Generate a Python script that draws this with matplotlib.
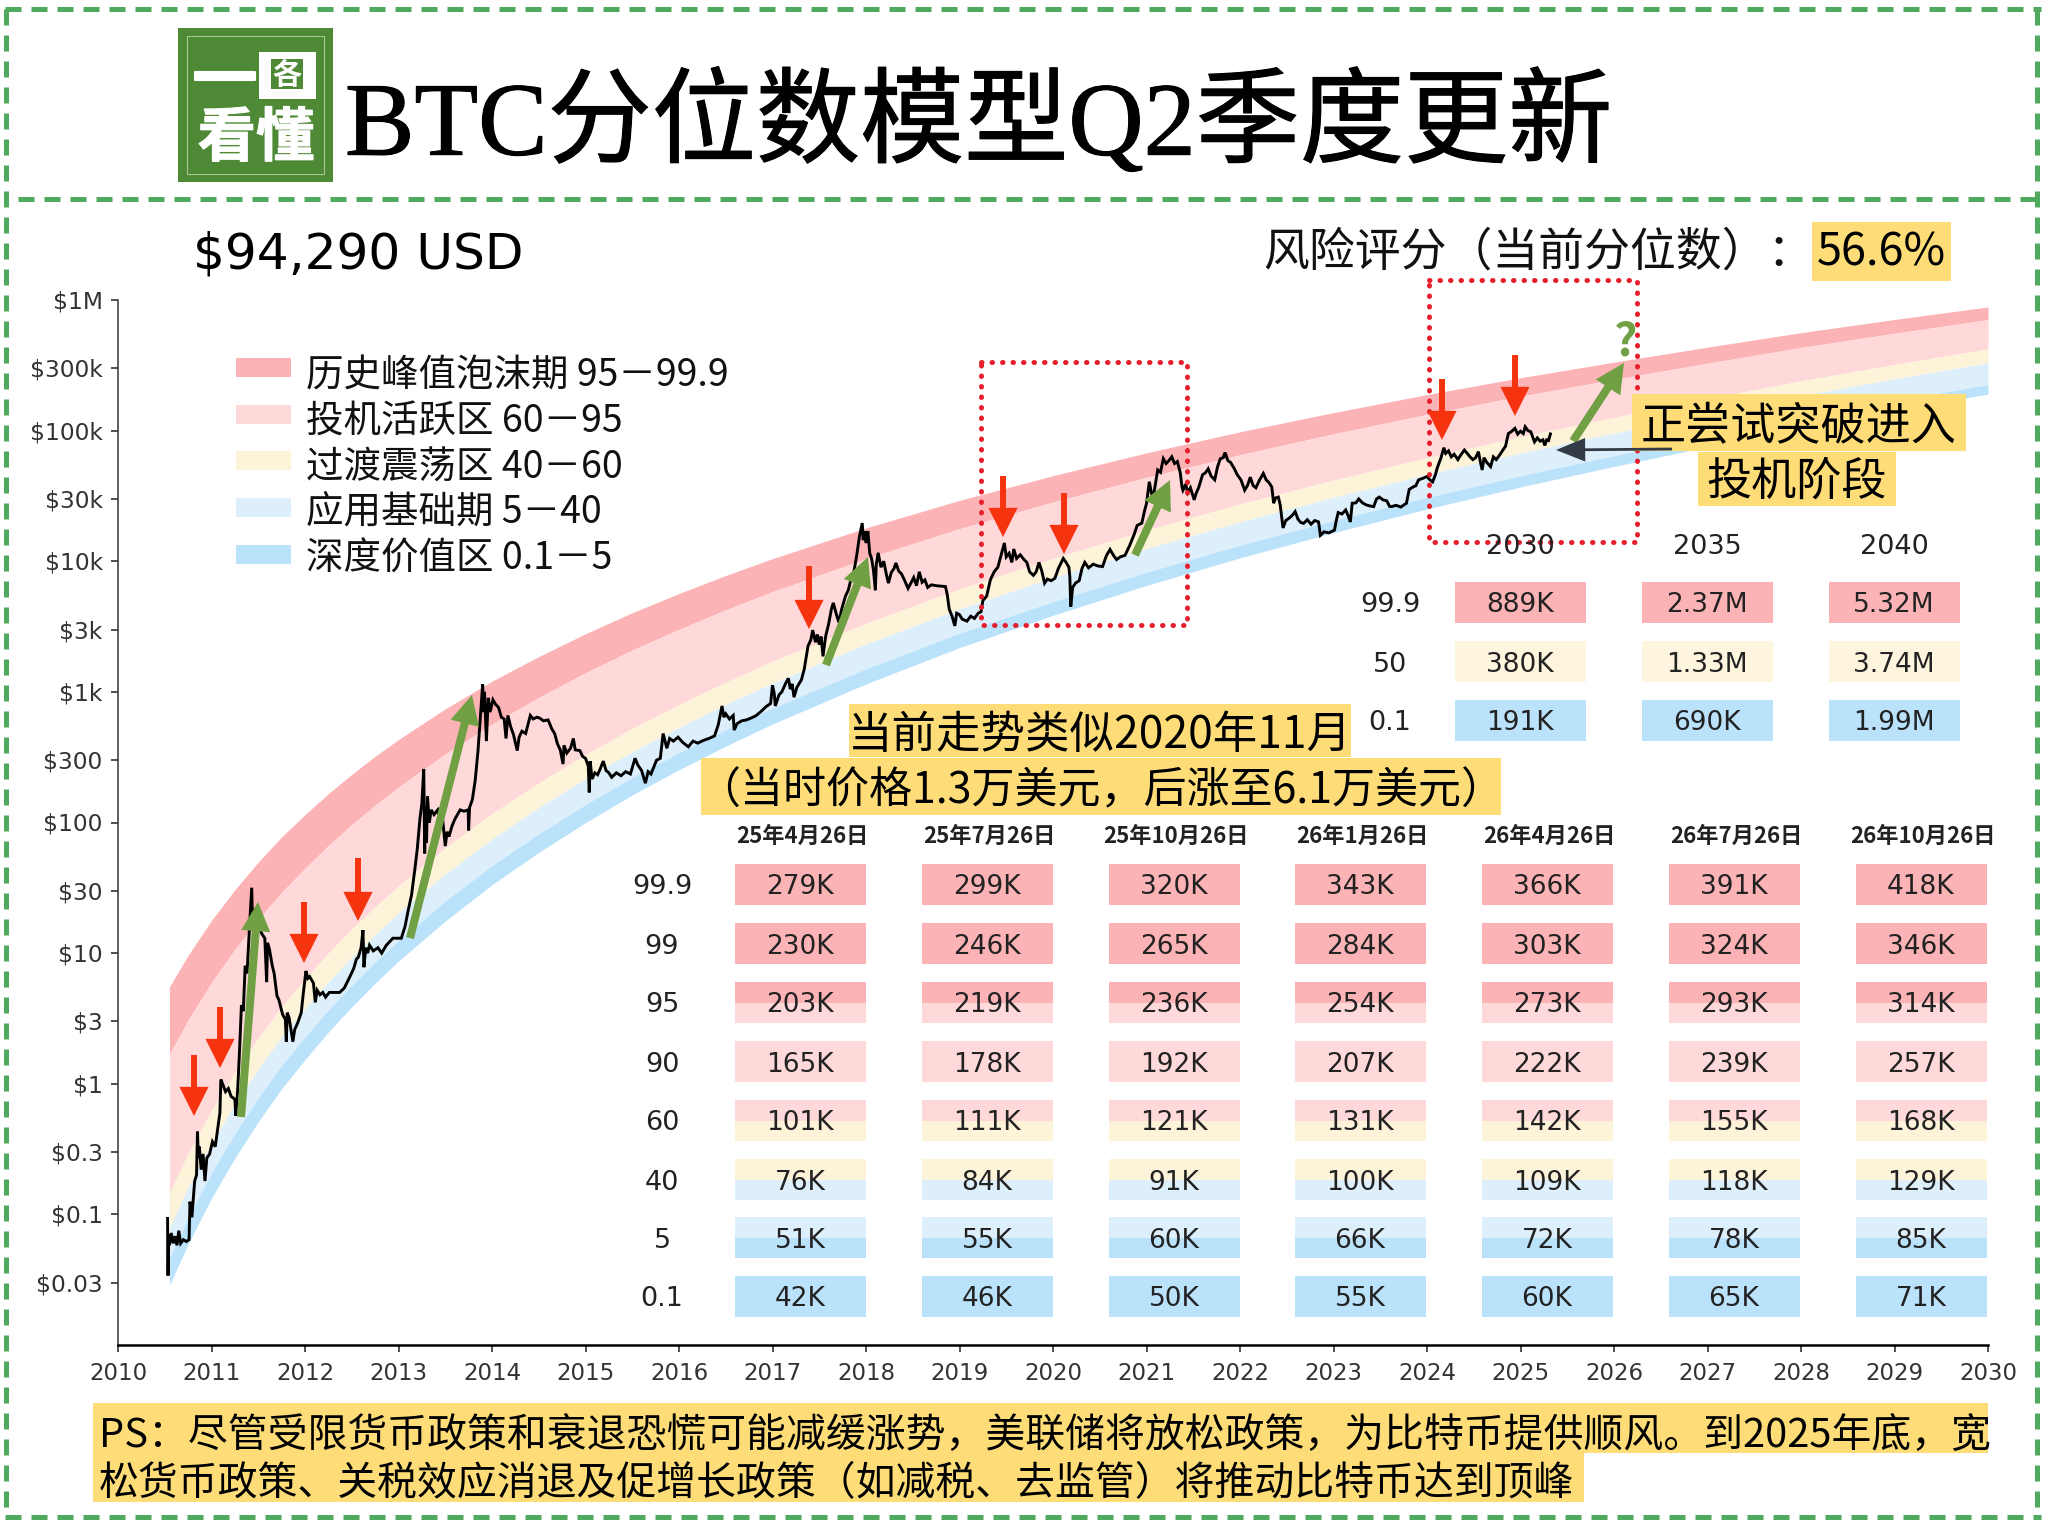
import numpy as np
import matplotlib
matplotlib.use('Agg')
import matplotlib.pyplot as plt
import matplotlib.patheffects as pe
from matplotlib.patches import Rectangle
from matplotlib.transforms import ScaledTranslation

plt.rcParams['font.family'] = ['Noto Sans CJK SC', 'DejaVu Sans']

# quantile bands, log10 of price
band_years = [2010.55, 2010.75, 2011, 2011.25, 2011.5, 2011.75, 2012, 2012.25, 2012.5, 2012.75, 2013, 2013.5, 2014, 2014.5,
              2015, 2015.5, 2016, 2016.5, 2017, 2018, 2019, 2020, 2021, 2022, 2023, 2024, 2025, 2026, 2027, 2028, 2029, 2030]
q999 = [0.742, 0.984, 1.251, 1.485, 1.697, 1.890, 2.060, 2.221, 2.369, 2.507, 2.635, 2.870, 3.082, 3.270,
        3.445, 3.606, 3.753, 3.891, 4.020, 4.255, 4.466, 4.655, 4.830, 4.991, 5.138, 5.276, 5.405, 5.524, 5.639, 5.750, 5.851, 5.947]
q95 = [0.225, 0.487, 0.775, 1.028, 1.257, 1.466, 1.650, 1.824, 1.983, 2.132, 2.271, 2.524, 2.753, 2.957,
       3.146, 3.320, 3.478, 3.628, 3.767, 4.020, 4.249, 4.453, 4.642, 4.815, 4.975, 5.124, 5.263, 5.392, 5.516, 5.636, 5.745, 5.849]
q60 = [-0.836, -0.535, -0.204, 0.088, 0.350, 0.590, 0.801, 1.001, 1.184, 1.355, 1.515, 1.806, 2.069, 2.303,
       2.520, 2.720, 2.903, 3.074, 3.234, 3.525, 3.788, 4.022, 4.239, 4.439, 4.621, 4.793, 4.953, 5.101, 5.244, 5.381, 5.506, 5.626]
q40 = [-1.102, -0.794, -0.454, -0.156, 0.113, 0.359, 0.575, 0.780, 0.967, 1.143, 1.307, 1.605, 1.874, 2.114,
       2.336, 2.541, 2.728, 2.904, 3.067, 3.366, 3.635, 3.875, 4.097, 4.302, 4.489, 4.665, 4.828, 4.980, 5.127, 5.267, 5.396, 5.519]
q5 = [-1.336, -1.025, -0.682, -0.381, -0.109, 0.140, 0.358, 0.565, 0.754, 0.932, 1.097, 1.398, 1.670, 1.913,
      2.137, 2.344, 2.533, 2.710, 2.876, 3.177, 3.449, 3.691, 3.916, 4.123, 4.312, 4.489, 4.655, 4.808, 4.956, 5.098, 5.228, 5.352]
q01 = [-1.544, -1.226, -0.876, -0.569, -0.291, -0.038, 0.185, 0.396, 0.589, 0.770, 0.939, 1.246, 1.524, 1.771,
       1.999, 2.211, 2.404, 2.585, 2.754, 3.061, 3.339, 3.586, 3.815, 4.026, 4.219, 4.400, 4.569, 4.726, 4.876, 5.021, 5.154, 5.280]

price_2010_14 = [(2010.53, 0.093), (2010.535, 0.034), (2010.54, 0.07), (2010.55, 0.058), (2010.57, 0.072), (2010.59, 0.06),
                 (2010.61, 0.068), (2010.63, 0.058), (2010.65, 0.075), (2010.67, 0.06), (2010.7, 0.064), (2010.73, 0.062),
                 (2010.76, 0.064), (2010.77, 0.125), (2010.79, 0.095), (2010.82, 0.18), (2010.84, 0.2), (2010.85, 0.43),
                 (2010.86, 0.27), (2010.87, 0.33), (2010.89, 0.22), (2010.91, 0.29), (2010.93, 0.18), (2010.95, 0.27),
                 (2010.98, 0.29), (2011.01, 0.36), (2011.04, 0.33), (2011.07, 0.47), (2011.09, 0.6), (2011.1, 1.08),
                 (2011.13, 0.95), (2011.15, 0.87), (2011.18, 0.92), (2011.21, 0.8), (2011.25, 0.76), (2011.26, 0.57),
                 (2011.28, 0.9), (2011.3, 1.8), (2011.32, 4), (2011.34, 3.6), (2011.36, 8), (2011.38, 7), (2011.4, 13),
                 (2011.43, 31.7), (2011.44, 15), (2011.46, 22), (2011.49, 16), (2011.52, 15), (2011.54, 14), (2011.57, 13),
                 (2011.59, 6), (2011.6, 12), (2011.62, 10.7), (2011.65, 8), (2011.67, 7), (2011.7, 4.7), (2011.72, 4.4),
                 (2011.76, 3.4), (2011.79, 3.1), (2011.8, 2.1), (2011.81, 3.5), (2011.83, 3.2), (2011.85, 2.6), (2011.87, 2.1),
                 (2011.89, 2.6), (2011.92, 2.9), (2011.96, 3.5), (2011.98, 4.8), (2012.01, 7.3), (2012.03, 6.4), (2012.05, 6.6),
                 (2012.09, 5.9), (2012.11, 4.2), (2012.13, 5.2), (2012.16, 4.8), (2012.19, 5.0), (2012.22, 4.6), (2012.26, 5.0),
                 (2012.32, 5.0), (2012.37, 5.0), (2012.42, 5.4), (2012.48, 6.6), (2012.52, 7.6), (2012.55, 9), (2012.57, 9.3),
                 (2012.6, 11), (2012.62, 15), (2012.63, 7.8), (2012.65, 11), (2012.67, 10), (2012.69, 11.5), (2012.73, 10.4),
                 (2012.78, 11), (2012.82, 10), (2012.87, 11.5), (2012.94, 13), (2013.03, 13), (2013.07, 16), (2013.1, 20.6),
                 (2013.14, 28), (2013.18, 47), (2013.2, 62), (2013.23, 108), (2013.25, 140), (2013.27, 257), (2013.28, 58),
                 (2013.29, 130), (2013.3, 70), (2013.31, 158), (2013.33, 100), (2013.35, 125), (2013.38, 115), (2013.42, 125),
                 (2013.45, 100), (2013.47, 110), (2013.5, 66), (2013.52, 85), (2013.54, 78), (2013.57, 93), (2013.6, 105),
                 (2013.63, 115), (2013.66, 125), (2013.7, 122), (2013.745, 125), (2013.75, 87), (2013.76, 130), (2013.79, 150),
                 (2013.82, 209), (2013.85, 352), (2013.87, 560), (2013.9, 1140), (2013.91, 700), (2013.92, 1000), (2013.94, 420),
                 (2013.96, 900), (2013.98, 700), (2014.01, 870), (2014.04, 800), (2014.07, 760), (2014.1, 640), (2014.13, 620),
                 (2014.15, 440), (2014.17, 660), (2014.2, 540), (2014.23, 470), (2014.27, 355), (2014.29, 450), (2014.32, 500),
                 (2014.36, 480), (2014.41, 660), (2014.44, 620), (2014.48, 640), (2014.51, 630), (2014.55, 600), (2014.6, 610),
                 (2014.64, 520), (2014.67, 480), (2014.7, 400), (2014.73, 360), (2014.76, 280), (2014.77, 390), (2014.8, 340),
                 (2014.84, 370), (2014.87, 440), (2014.89, 360), (2014.94, 355), (2014.97, 320), (2015.0, 310), (2015.03, 270),
                 (2015.04, 170), (2015.05, 295), (2015.07, 215), (2015.1, 240), (2015.13, 232), (2015.16, 260), (2015.19, 295),
                 (2015.22, 250), (2015.25, 240), (2015.28, 222), (2015.33, 240), (2015.38, 228), (2015.43, 245), (2015.48, 235),
                 (2015.53, 310), (2015.56, 275), (2015.6, 250), (2015.64, 200), (2015.67, 245), (2015.7, 235), (2015.76, 300),
                 (2015.8, 310), (2015.83, 480), (2015.87, 370), (2015.9, 440), (2015.94, 420), (2015.99, 450)]

price_2016_20 = [(2016.04, 410), (2016.1, 380), (2016.15, 420), (2016.2, 405), (2016.26, 425), (2016.32, 440), (2016.38, 460),
                 (2016.42, 560), (2016.46, 780), (2016.48, 640), (2016.5, 680), (2016.54, 620), (2016.58, 660), (2016.59, 510),
                 (2016.62, 570), (2016.67, 600), (2016.72, 610), (2016.77, 630), (2016.82, 655), (2016.88, 710), (2016.93, 770),
                 (2016.98, 815), (2017.0, 1120), (2017.02, 960), (2017.03, 780), (2017.07, 950), (2017.1, 1000), (2017.14, 1160),
                 (2017.17, 1270), (2017.19, 1050), (2017.21, 1150), (2017.23, 910), (2017.26, 1080), (2017.31, 1240), (2017.34, 1500),
                 (2017.38, 2250), (2017.41, 2500), (2017.43, 2970), (2017.46, 2400), (2017.48, 2750), (2017.5, 2300), (2017.52, 2650),
                 (2017.54, 1870), (2017.57, 2700), (2017.6, 3300), (2017.63, 4300), (2017.65, 4800), (2017.68, 4000), (2017.71, 3400),
                 (2017.74, 4300), (2017.78, 5400), (2017.81, 6000), (2017.84, 7300), (2017.87, 8300), (2017.9, 11000), (2017.93, 15500),
                 (2017.96, 19600), (2017.97, 14500), (2017.98, 17000), (2018.0, 13800), (2018.02, 17000), (2018.04, 11500), (2018.06, 10500),
                 (2018.08, 8500), (2018.1, 6000), (2018.11, 9500), (2018.13, 11600), (2018.16, 9000), (2018.19, 10000), (2018.22, 7800),
                 (2018.24, 6800), (2018.27, 8200), (2018.3, 8800), (2018.32, 9700), (2018.35, 8400), (2018.38, 8000), (2018.41, 7200),
                 (2018.45, 6200), (2018.48, 6800), (2018.51, 7500), (2018.54, 6500), (2018.57, 8300), (2018.6, 6900), (2018.63, 7200),
                 (2018.66, 6300), (2018.7, 6600), (2018.75, 6500), (2018.8, 6450), (2018.85, 6400), (2018.87, 5500), (2018.89, 4300),
                 (2018.92, 3800), (2018.95, 3200), (2018.97, 4000), (2019.0, 3900), (2019.03, 3600), (2019.08, 3480), (2019.12, 3800),
                 (2019.16, 3650), (2019.2, 4000), (2019.23, 4100), (2019.25, 5000), (2019.29, 5400), (2019.33, 7200), (2019.37, 8300),
                 (2019.41, 9000), (2019.45, 11500), (2019.48, 13800), (2019.5, 10800), (2019.53, 11500), (2019.56, 9800), (2019.58, 12400),
                 (2019.61, 10500), (2019.65, 11200), (2019.69, 10300), (2019.72, 9800), (2019.75, 8300), (2019.79, 7800), (2019.82, 8300),
                 (2019.85, 9800), (2019.88, 8400), (2019.91, 6800), (2019.94, 7300), (2019.98, 7100), (2020.02, 7400), (2020.06, 8900),
                 (2020.11, 10500), (2020.14, 9800), (2020.17, 9000), (2020.18, 7600), (2020.19, 4500), (2020.21, 6300), (2020.24, 6800),
                 (2020.28, 7100), (2020.31, 8800), (2020.34, 9800), (2020.38, 8900), (2020.43, 9500), (2020.48, 9200), (2020.53, 9100)]

price_2020_25 = [(2020.57, 11000), (2020.61, 12300), (2020.65, 11000), (2020.68, 10300), (2020.72, 10800), (2020.77, 11100),
                 (2020.82, 13200), (2020.87, 16200), (2020.9, 18800), (2020.95, 19600), (2020.98, 24500), (2021.0, 27600),
                 (2021.03, 40600), (2021.05, 34000), (2021.07, 30000), (2021.09, 37000), (2021.12, 50000), (2021.15, 48000),
                 (2021.18, 61000), (2021.21, 56000), (2021.24, 59000), (2021.27, 63000), (2021.3, 56000), (2021.33, 58000),
                 (2021.36, 48000), (2021.38, 37000), (2021.39, 35000), (2021.42, 39000), (2021.44, 33500), (2021.47, 36500),
                 (2021.51, 29500), (2021.53, 33000), (2021.56, 37000), (2021.6, 46000), (2021.63, 47500), (2021.66, 51000),
                 (2021.69, 45000), (2021.73, 42000), (2021.76, 53000), (2021.79, 61000), (2021.82, 62000), (2021.84, 68000),
                 (2021.87, 59000), (2021.9, 57000), (2021.94, 51000), (2021.97, 46000), (2022.01, 42000), (2022.05, 35000),
                 (2022.08, 38000), (2022.11, 44000), (2022.14, 38000), (2022.17, 36500), (2022.21, 42000), (2022.25, 47000),
                 (2022.28, 42000), (2022.31, 40000), (2022.34, 37000), (2022.36, 27800), (2022.38, 30500), (2022.41, 31000),
                 (2022.43, 27000), (2022.46, 18000), (2022.49, 20500), (2022.53, 21500), (2022.56, 22500), (2022.59, 24000),
                 (2022.62, 21000), (2022.65, 19800), (2022.68, 19500), (2022.72, 20800), (2022.76, 19200), (2022.8, 20500),
                 (2022.84, 20000), (2022.86, 15800), (2022.9, 16800), (2022.95, 16500), (2023.01, 17300), (2023.03, 20500),
                 (2023.05, 23600), (2023.09, 23000), (2023.13, 24700), (2023.16, 22000), (2023.18, 20000), (2023.2, 27800),
                 (2023.24, 28000), (2023.27, 30000), (2023.31, 28000), (2023.35, 27000), (2023.39, 26500), (2023.43, 26200),
                 (2023.46, 30000), (2023.49, 31000), (2023.53, 29500), (2023.57, 29000), (2023.6, 26300), (2023.62, 26200),
                 (2023.67, 26800), (2023.72, 26000), (2023.78, 27800), (2023.81, 35500), (2023.85, 37000), (2023.88, 37800),
                 (2023.91, 42000), (2023.95, 43000), (2024.0, 44500), (2024.03, 42000), (2024.06, 40500), (2024.09, 46000),
                 (2024.11, 52000), (2024.15, 62000), (2024.18, 74000), (2024.2, 67000), (2024.23, 70000), (2024.26, 63000),
                 (2024.29, 66000), (2024.33, 60000), (2024.36, 65000), (2024.4, 71000), (2024.43, 67000), (2024.46, 63000),
                 (2024.49, 60000), (2024.52, 62000), (2024.55, 69000), (2024.57, 58000), (2024.59, 50000), (2024.61, 62000),
                 (2024.64, 57000), (2024.68, 53000), (2024.71, 63000), (2024.74, 60000), (2024.77, 64000), (2024.8, 69000),
                 (2024.84, 76000), (2024.87, 95000), (2024.9, 98000), (2024.94, 104000), (2024.97, 94000), (2025.0, 99000),
                 (2025.03, 95000), (2025.05, 107000), (2025.08, 100000), (2025.11, 98000), (2025.15, 82000), (2025.18, 88000),
                 (2025.21, 83000), (2025.24, 85000), (2025.26, 77000), (2025.28, 85000), (2025.3, 84000), (2025.32, 94290)]

y_ticks = [0.03, 0.1, 0.3, 1, 3, 10, 30, 100, 300, 1000, 3000, 1e4, 3e4, 1e5, 3e5, 1e6]
y_tick_labels = ['$0.03', '$0.1', '$0.3', '$1', '$3', '$10', '$30', '$100', '$300', '$1k', '$3k', '$10k', '$30k',
                 '$100k', '$300k', '$1M']
x_ticks = list(range(2010, 2031))

legend_labels = ['历史峰值泡沫期 95－99.9', '投机活跃区 60－95', '过渡震荡区 40－60', '应用基础期 5－40', '深度价值区 0.1－5']

dates = ['25年4月26日', '25年7月26日', '25年10月26日', '26年1月26日', '26年4月26日', '26年7月26日', '26年10月26日']
quantiles = ['99.9', '99', '95', '90', '60', '40', '5', '0.1']
table = [['279K', '299K', '320K', '343K', '366K', '391K', '418K'],
         ['230K', '246K', '265K', '284K', '303K', '324K', '346K'],
         ['203K', '219K', '236K', '254K', '273K', '293K', '314K'],
         ['165K', '178K', '192K', '207K', '222K', '239K', '257K'],
         ['101K', '111K', '121K', '131K', '142K', '155K', '168K'],
         ['76K', '84K', '91K', '100K', '109K', '118K', '129K'],
         ['51K', '55K', '60K', '66K', '72K', '78K', '85K'],
         ['42K', '46K', '50K', '55K', '60K', '65K', '71K']]

long_years = ['2030', '2035', '2040']
long_quantiles = ['99.9', '50', '0.1']
long_table = [['889K', '2.37M', '5.32M'], ['380K', '1.33M', '3.74M'], ['191K', '690K', '1.99M']]

RED = '#fcb3b6'
PINK = '#ffd9da'
CREAM = '#fdf3d8'
LBLUE = '#deeffc'
BLUE = '#bbe2fb'
YELLOW = '#fedd78'
GREEN = '#70a043'
ARROW_RED = '#f5340f'
FRAME = '#4fa95f'
LOGO = '#4e8a35'

fig = plt.figure(figsize=(20.48, 15.25), dpi=100)
W, H = 2048, 1525

# main chart
ax = fig.add_axes([118 / W, 1 - 1345 / H, (1988 - 118) / W, (1345 - 300) / H])
ax.set_xlim(2010, 2030)
ax.set_yscale('log')
ax.set_ylim(0.01, 1e6)

by = np.array(band_years)
edges = [10.0 ** np.array(q) for q in [q999, q95, q60, q40, q5, q01]]
colors = [RED, PINK, CREAM, LBLUE, BLUE]
for i in range(5):
    ax.fill_between(by, edges[i + 1], edges[i], color=colors[i], lw=0, zorder=1)

price = price_2010_14 + price_2016_20 + price_2020_25
ax.plot([p[0] for p in price], [p[1] for p in price], color='black', lw=2.1, zorder=3, solid_joinstyle='miter')

ax.set_yticks(y_ticks)
ax.set_yticklabels(y_tick_labels, family='DejaVu Sans', fontsize=16.8, color='#333333')
ax.minorticks_off()
ax.set_xticks(x_ticks)
ax.set_xticklabels(x_ticks, family='DejaVu Sans', fontsize=16.5, color='#333333')
ax.tick_params(axis='y', length=5, width=1.2, pad=6, color='#333333')
ax.tick_params(axis='x', length=5, width=1.2, pad=7, color='#333333')
nudge = ScaledTranslation(0, 0.5 / 100, fig.dpi_scale_trans)
for lab in ax.get_yticklabels():
    lab.set_transform(lab.get_transform() + nudge)
ax.spines['top'].set_visible(False)
ax.spines['right'].set_visible(False)
ax.spines['left'].set_linewidth(1.2)
ax.spines['left'].set_color('#444444')
ax.spines['bottom'].set_linewidth(1.8)

# overlay in pixel coordinates for all the poster stuff
ov = fig.add_axes([0, 0, 1, 1], zorder=5)
ov.set_xlim(0, W)
ov.set_ylim(H, 0)
ov.axis('off')
ov.patch.set_alpha(0)


def box(x0, y0, x1, y1, color, z=2):
    ov.add_patch(Rectangle((x0, y0), x1 - x0, y1 - y0, facecolor=color, edgecolor='none', zorder=z))


# green frame
dash = (0, (3.2, 2.0))
for xs, ys in [([5, 2041], [9, 9]), ([6, 6], [9, 1517]), ([2037, 2037], [9, 1517]), ([5, 2041], [1517, 1517]),
               ([18, 2040], [199, 199])]:
    ov.plot(xs, ys, color=FRAME, lw=3.6, linestyle=dash, zorder=2)

# logo
box(178, 28, 333, 182, LOGO)
ov.add_patch(Rectangle((187, 36), 137, 138, facecolor='none', edgecolor='#a9c893', lw=0.8, zorder=3))
ov.text(225, 82, '一', color='white', fontsize=47, fontweight='bold', ha='center', va='center', zorder=4,
        path_effects=[pe.withStroke(linewidth=1.5, foreground='white')])
box(259, 52, 316, 99, 'white', 3)
box(271, 59, 303, 89, LOGO, 3)
ov.text(287, 75, '各', color='white', fontsize=21, fontweight='bold', ha='center', va='center', zorder=4)
ov.text(256, 139, '看懂', color='white', fontsize=42, fontweight='bold', ha='center', va='center', zorder=4,
        path_effects=[pe.withStroke(linewidth=0.8, foreground='white')])

# title
ov.text(345, 124, 'BTC分位数模型Q2季度更新', fontsize=75, color='black', family=['Liberation Serif', 'Noto Sans CJK SC'],
        ha='left', va='center', zorder=4, path_effects=[pe.withStroke(linewidth=0.8, foreground='black')])
ov.text(193, 254, '$94,290 USD', fontsize=36.2, family='DejaVu Sans', color='black', ha='left', va='center', zorder=4)
ov.text(1263, 252, '风险评分（当前分位数）：', fontsize=33, color='#111111', ha='left', va='center', zorder=4)
box(1812, 222, 1951, 281, YELLOW)
ov.text(1881, 253, '56.6%', fontsize=32.5, color='black', ha='center', va='center', zorder=4)

# legend
leg_y = [367, 414, 460, 507, 554]
leg_text_y = [376, 422, 468, 513, 559]
for lab, c, yy, ty in zip(legend_labels, colors, leg_y, leg_text_y):
    box(236, yy - 9, 291, yy + 10, c)
    ov.text(306, ty, lab, fontsize=27, color='#111111', ha='left', va='center', zorder=4)

# dotted red boxes
for x0, y0, x1, y1 in [(981, 362, 1187, 625), (1429, 280, 1637, 542)]:
    ov.plot([x0, x1, x1, x0, x0], [y0, y0, y1, y1, y0], color='#e51f2b', lw=3.6, linestyle=(0, (0.1, 2.0)),
            dash_capstyle='round', zorder=6)

# red arrows
for xa, y0, y1 in [(194, 1055, 1116), (220, 1007, 1068), (304, 902, 963), (358, 858, 921), (809, 566, 629),
                   (1003, 476, 537), (1064, 493, 554), (1442, 379, 440), (1515, 355, 416)]:
    ov.annotate('', xy=(xa, y1), xytext=(xa, y0), zorder=7,
                arrowprops=dict(width=4.3, headwidth=21, headlength=21, color=ARROW_RED, shrink=0, lw=0))

# green arrows
for (x0, y0), (x1, y1) in [((241, 1117), (258, 902)), ((410, 938), (472, 695)), ((826, 665), (868, 557)),
                           ((1135, 555), (1170, 480)), ((1573, 441), (1624, 363))]:
    ov.annotate('', xy=(x1, y1), xytext=(x0, y0), zorder=7,
                arrowprops=dict(width=5.8, headwidth=21, headlength=21, color=GREEN, shrink=0, lw=0))
ov.text(1626, 342, '?', color=GREEN, fontsize=33, fontweight='bold', ha='center', va='center', zorder=7)

# black arrow to current price
ov.annotate('', xy=(1556, 450), xytext=(1672, 449), zorder=7,
            arrowprops=dict(width=2.0, headwidth=17, headlength=21, color='#333c44', shrink=0, lw=0))

# callouts
box(1632, 394, 1966, 451, YELLOW, 6)
ov.text(1799, 427, '正尝试突破进入', fontsize=32.5, color='black', ha='center', va='center', zorder=8)
box(1698, 452, 1896, 506, YELLOW, 6)
ov.text(1797, 482, '投机阶段', fontsize=32.5, color='black', ha='center', va='center', zorder=8)
box(849, 704, 1351, 757, YELLOW, 6)
ov.text(1100, 735, '当前走势类似2020年11月', fontsize=32, color='black', ha='center', va='center', zorder=8)
box(701, 758, 1501, 815, YELLOW, 6)
ov.text(1101, 791, '（当时价格1.3万美元，后涨至6.1万美元）', fontsize=31, color='black', ha='center', va='center', zorder=8)

# monthly table
col_x = [800, 987, 1174, 1360, 1547, 1734, 1921]
row_y = [884.5, 943.5, 1002.5, 1061.5, 1120.5, 1179.5, 1237.5, 1296.5]
row_colors = [(RED, RED), (RED, RED), (RED, PINK), (PINK, PINK), (PINK, CREAM), (CREAM, LBLUE), (LBLUE, BLUE),
              (BLUE, BLUE)]
cw, ch = 131, 41
for x, d in zip(col_x, dates):
    ov.text(x + 2, 836, d, fontsize=16, fontweight='bold', color='#222222', ha='center', va='center', zorder=4)
for i, q in enumerate(quantiles):
    ov.text(662, row_y[i] + 3, q, fontsize=19.5, family='DejaVu Sans', color='#222222', ha='center', va='center',
            zorder=4)
    for j, x in enumerate(col_x):
        box(x - cw / 2, row_y[i] - ch / 2, x + cw / 2, row_y[i], row_colors[i][0])
        box(x - cw / 2, row_y[i], x + cw / 2, row_y[i] + ch / 2, row_colors[i][1])
        ov.text(x, row_y[i] + 3, table[i][j], fontsize=19, family='DejaVu Sans', color='#222222', ha='center',
                va='center', zorder=4)

# long range table
long_x = [1520, 1707, 1894]
long_y = [602.5, 661.5, 720.5]
long_colors = [RED, '#fdf5dd', BLUE]
for x, yr in zip(long_x, long_years):
    ov.text(x, 547, yr, fontsize=19.5, family='DejaVu Sans', color='#222222', ha='center', va='center', zorder=8)
for i, q in enumerate(long_quantiles):
    ov.text(1390, long_y[i] + 3, q, fontsize=19.5, family='DejaVu Sans', color='#222222', ha='center', va='center',
            zorder=8)
    for j, x in enumerate(long_x):
        box(x - cw / 2, long_y[i] - ch / 2, x + cw / 2, long_y[i] + ch / 2, long_colors[i])
        ov.text(x, long_y[i] + 3, long_table[i][j], fontsize=19, family='DejaVu Sans', color='#222222', ha='center',
                va='center', zorder=4)

# PS note
box(93, 1403, 1988, 1453, YELLOW)
box(93, 1453, 1584, 1502, YELLOW)
ov.text(99, 1436, 'PS：尽管受限货币政策和衰退恐慌可能减缓涨势，美联储将放松政策，为比特币提供顺风。到2025年底，宽', fontsize=28.7,
        color='black', ha='left', va='center', zorder=4)
ov.text(99, 1483, '松货币政策、关税效应消退及促增长政策（如减税、去监管）将推动比特币达到顶峰', fontsize=28.7,
        color='black', ha='left', va='center', zorder=4)

fig.savefig('out.png', dpi=100, facecolor='white')
